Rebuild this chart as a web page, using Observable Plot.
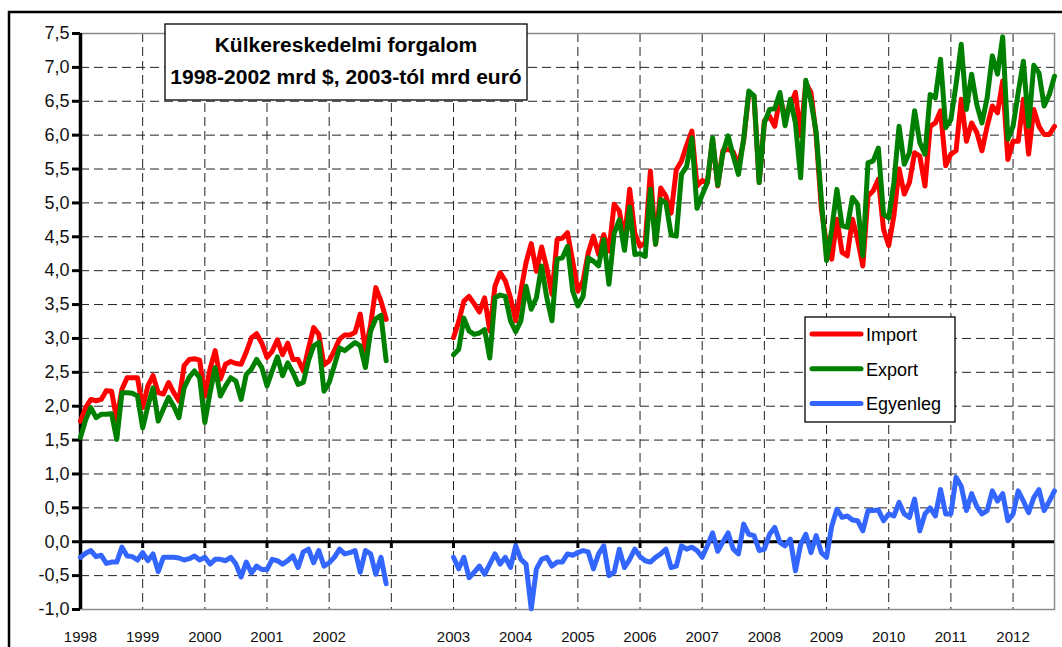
<!DOCTYPE html>
<html>
<head>
<meta charset="utf-8">
<script src="https://cdn.jsdelivr.net/npm/d3@7"></script>
<script src="https://cdn.jsdelivr.net/npm/@observablehq/plot@0.6"></script>
<style>
  body { margin: 0; background: #fff; }
  #chart svg { display: block; }
</style>
</head>
<body>
<div id="chart"></div>
<script>
// Category axis: one slot per month, 1998-01 .. 2012-09, with an empty year slot after 2002
const yearLabels = ["1998","1999","2000","2001","2002","","2003","2004","2005","2006","2007","2008","2009","2010","2011","2012"];
const yearTicks = [0,12,24,36,48,60,72,84,96,108,120,132,144,156,168,180];
const yTicks = [-1,-0.5,0,0.5,1,1.5,2,2.5,3,3.5,4,4.5,5,5.5,6,6.5,7,7.5];

// 1998-01 .. 2002-12 (mrd $)
const importA = [
  1.78,1.98,2.10,2.08,2.10,2.23,2.22,1.80,2.25,2.42,2.42,2.42,
  1.98,2.30,2.45,2.20,2.18,2.35,2.20,2.08,2.60,2.69,2.70,2.68,
  2.15,2.55,2.82,2.40,2.62,2.66,2.63,2.62,2.80,3.01,3.07,2.93,
  2.72,2.81,2.98,2.76,2.93,2.69,2.69,2.52,2.85,3.16,3.06,2.61,
  2.67,2.82,2.99,3.05,3.05,3.09,3.36,2.82,3.20,3.75,3.55,3.28
];
const exportA = [
  1.54,1.80,1.98,1.83,1.88,1.88,1.89,1.51,2.20,2.20,2.19,2.15,
  1.68,2.00,2.27,1.78,1.96,2.13,2.00,1.83,2.27,2.43,2.52,2.42,
  1.76,2.20,2.57,2.15,2.30,2.42,2.37,2.10,2.47,2.55,2.69,2.57,
  2.30,2.52,2.73,2.45,2.64,2.50,2.32,2.35,2.67,2.89,2.94,2.22,
  2.35,2.60,2.86,2.82,2.88,2.94,2.89,2.57,3.11,3.29,3.34,2.67
];
const balanceA = [
  -0.23,-0.17,-0.13,-0.22,-0.20,-0.32,-0.30,-0.30,-0.08,-0.21,-0.22,-0.27,
  -0.16,-0.28,-0.18,-0.44,-0.23,-0.23,-0.23,-0.24,-0.27,-0.25,-0.21,-0.27,
  -0.23,-0.33,-0.26,-0.26,-0.28,-0.23,-0.33,-0.52,-0.30,-0.46,-0.36,-0.41,
  -0.41,-0.26,-0.28,-0.33,-0.28,-0.21,-0.38,-0.15,-0.11,-0.31,-0.13,-0.36,
  -0.31,-0.23,-0.11,-0.18,-0.16,-0.13,-0.45,-0.13,-0.18,-0.48,-0.23,-0.62
];
// 2003-01 .. 2012-09 (mrd euró)
const importB = [
  3.01,3.25,3.55,3.62,3.51,3.39,3.60,3.11,3.77,3.97,3.85,3.60,
  3.26,3.70,4.12,4.40,3.99,4.35,4.04,3.65,4.46,4.48,4.56,4.14,
  3.70,3.85,4.26,4.51,4.24,4.53,4.29,4.98,4.88,4.46,5.20,4.55,
  4.36,4.41,5.47,4.39,5.22,5.10,4.85,5.49,5.62,5.85,6.06,5.25,
  5.33,5.30,5.94,5.25,5.77,5.79,5.75,5.55,5.92,6.62,6.58,5.30,
  6.21,6.28,6.13,6.55,6.28,6.43,6.63,5.99,6.77,6.63,5.99,4.91,
  4.37,4.17,4.76,4.27,4.22,4.76,4.46,4.07,5.10,5.18,5.35,4.61,
  4.37,4.81,5.50,5.13,5.30,5.74,5.69,5.25,6.13,6.18,6.36,5.55,
  5.72,5.77,6.53,5.91,6.18,6.04,5.77,6.13,6.43,6.33,6.80,5.64,
  5.91,5.91,6.53,5.72,6.38,6.13,6.01,6.01,6.13
];
const exportB = [
  2.76,2.84,3.30,3.11,3.06,3.08,3.13,2.71,3.60,3.64,3.62,3.26,
  3.10,3.26,3.77,3.43,3.60,4.07,3.60,3.26,4.17,4.19,4.36,3.70,
  3.48,3.62,4.19,4.14,4.07,4.46,3.80,4.55,4.75,4.30,4.94,4.24,
  4.25,4.21,5.20,4.39,5.05,5.00,4.53,4.51,5.42,5.54,5.96,4.92,
  5.12,5.30,5.96,5.26,5.74,5.99,5.69,5.42,5.94,6.65,6.58,5.30,
  6.18,6.38,6.39,6.63,6.14,6.53,6.18,5.37,6.81,6.50,6.04,5.05,
  4.15,4.61,5.20,4.66,4.64,5.08,4.98,4.22,5.59,5.62,5.81,4.83,
  4.78,5.30,6.13,5.57,5.74,6.36,5.89,5.72,6.60,6.55,7.12,6.11,
  6.23,6.75,7.34,6.38,6.90,6.45,6.18,6.55,7.17,6.90,7.45,5.94,
  6.13,6.63,7.09,6.13,7.03,6.92,6.43,6.60,6.87
];
const balanceB = [
  -0.23,-0.40,-0.23,-0.53,-0.45,-0.36,-0.48,-0.33,-0.18,-0.33,-0.23,-0.38,
  -0.06,-0.26,-0.33,-0.99,-0.40,-0.26,-0.23,-0.36,-0.30,-0.30,-0.18,-0.20,
  -0.16,-0.13,-0.15,-0.40,-0.18,-0.06,-0.50,-0.45,-0.11,-0.38,-0.26,-0.11,
  -0.22,-0.28,-0.30,-0.23,-0.18,-0.11,-0.38,-0.36,-0.06,-0.11,-0.08,-0.13,
  -0.23,-0.06,0.13,-0.14,0.00,0.13,-0.11,-0.18,0.26,0.11,0.09,-0.13,
  -0.11,0.11,0.21,-0.01,-0.06,0.04,-0.43,-0.04,0.11,-0.16,0.09,-0.16,
  -0.23,0.23,0.48,0.36,0.38,0.32,0.31,0.16,0.46,0.46,0.47,0.31,
  0.41,0.38,0.58,0.41,0.36,0.63,0.16,0.41,0.50,0.38,0.77,0.41,
  0.41,0.95,0.82,0.46,0.71,0.52,0.41,0.46,0.75,0.60,0.71,0.31,
  0.41,0.75,0.60,0.43,0.65,0.77,0.46,0.60,0.75
];

const seriesNames = ["Import", "Export", "Egyenleg"];
const seriesColors = ["#ff0000", "#008000", "#3366ff"];
const titleLines = ["Külkereskedelmi forgalom", "1998-2002 mrd $, 2003-tól mrd euró"];

// Build the rows: slot index; the empty year (slots 60-71) stays undefined -> gap
const startB = 72;
const nSlots = startB + importB.length;
const rows = d3.range(nSlots).map(i => {
  if (i < importA.length) return {i, imp: importA[i], exp: exportA[i], bal: balanceA[i]};
  if (i >= startB) return {i, imp: importB[i - startB], exp: exportB[i - startB], bal: balanceB[i - startB]};
  return {i, imp: NaN, exp: NaN, bal: NaN};
});

const fmt = v => v.toFixed(1).replace(".", ",");
const font = "'Liberation Sans', Arial, sans-serif";
const lineOpts = {strokeWidth: 5, strokeLinejoin: "round", strokeLinecap: "round"};

const chart = Plot.plot({
  width: 1062,
  height: 647,
  marginLeft: 80,
  marginRight: 8,
  marginTop: 33,
  marginBottom: 38,
  style: {fontFamily: font, background: "white", color: "black", overflow: "visible"},
  x: {domain: [0, nSlots - 1], axis: null},
  y: {domain: [-1, 7.5], axis: null},
  marks: [
    Plot.ruleY(yTicks.filter(v => v !== 0 && v > -1 && v < 7.5), {stroke: "#222", strokeDasharray: "9,5", strokeWidth: 1}),
    Plot.ruleX(yearTicks.filter(v => v > 0), {stroke: "#222", strokeDasharray: "9,5", strokeWidth: 1}),
    Plot.frame({stroke: "#8c8c8c", strokeWidth: 1.5}),
    Plot.ruleY([0], {stroke: "black", strokeWidth: 3}),
    Plot.ruleX(yearTicks, {y1: 0, y2: -0.1, stroke: "black", strokeWidth: 3}),
    Plot.ruleX([0], {stroke: "black", strokeWidth: 3.5}),
    Plot.axisY({ticks: yTicks, tickFormat: fmt, tickSize: 8, tickPadding: 3, fontSize: 18, strokeWidth: 3, fill: "#111", label: null}),
    Plot.axisX({ticks: yearTicks, tickFormat: d => yearLabels[yearTicks.indexOf(d)], tickSize: 0, tickPadding: 22, fontSize: 15, fill: "#111", label: null}),
    Plot.line(rows, {x: "i", y: "imp", stroke: seriesColors[0], ...lineOpts}),
    Plot.line(rows, {x: "i", y: "exp", stroke: seriesColors[1], ...lineOpts}),
    Plot.line(rows, {x: "i", y: "bal", stroke: seriesColors[2], ...lineOpts})
  ]
});

document.getElementById("chart").appendChild(chart);

const svg = d3.select(chart);
// outer chart border
svg.append("rect").attr("x", 9).attr("y", 12).attr("width", 1080).attr("height", 700)
  .attr("fill", "none").attr("stroke", "black").attr("stroke-width", 2.5);

// title box
const tg = svg.append("g");
tg.append("rect").attr("x", 165).attr("y", 24).attr("width", 362).attr("height", 76)
  .attr("fill", "white").attr("stroke", "black").attr("stroke-width", 1.3);
tg.selectAll("text").data(titleLines).join("text")
  .attr("x", 346).attr("y", (d, k) => 52 + k * 32)
  .attr("text-anchor", "middle").attr("font-family", font).attr("font-weight", "bold")
  .attr("font-size", 21).attr("fill", "black").text(d => d);

// legend
const lg = svg.append("g");
lg.append("rect").attr("x", 805).attr("y", 317).attr("width", 150).attr("height", 105)
  .attr("fill", "white").attr("stroke", "black").attr("stroke-width", 1.3);
const items = lg.selectAll("g.item").data(seriesNames).join("g").attr("class", "item")
  .attr("transform", (d, k) => `translate(0, ${334 + k * 34.7})`);
items.append("line").attr("x1", 812).attr("x2", 861).attr("y1", 0).attr("y2", 0)
  .attr("stroke", (d, k) => seriesColors[k]).attr("stroke-width", 5).attr("stroke-linecap", "round");
items.append("text").attr("x", 866).attr("y", 7).attr("text-anchor", "start").attr("font-family", font)
  .attr("font-size", 18).attr("fill", "black").text(d => d);
</script>
</body>
</html>
